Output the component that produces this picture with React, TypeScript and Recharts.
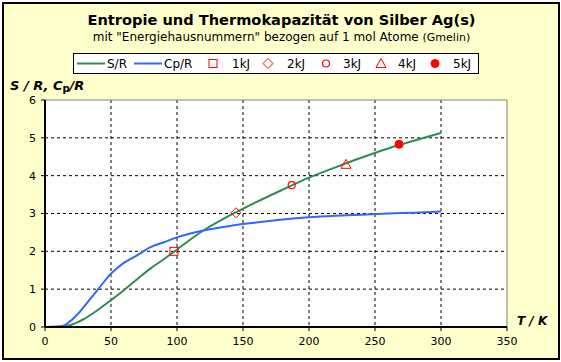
import React from 'react';
import { ComposedChart, Line, Scatter, XAxis, YAxis, CartesianGrid, ReferenceLine } from 'recharts';

// temperatures (K) for the two curves
const temps = [0, 10, 15, 20, 25, 30, 40, 50, 60, 70, 80, 90, 100, 120, 140, 160, 180, 200, 220, 240, 260, 280, 300];
const entropy = [0, 0.005, 0.02, 0.06, 0.13, 0.22, 0.45, 0.71, 0.98, 1.27, 1.55, 1.79, 2.05, 2.55, 2.95, 3.3, 3.63, 3.95, 4.22, 4.48, 4.72, 4.93, 5.13];
const heatCap = [0, 0.01, 0.05, 0.18, 0.35, 0.56, 0.99, 1.41, 1.7, 1.9, 2.11, 2.24, 2.37, 2.55, 2.67, 2.76, 2.84, 2.9, 2.94, 2.97, 3.0, 3.02, 3.05];

// "Energiehausnummern" markers
const markerNames = ['1kJ', '2kJ', '3kJ', '4kJ', '5kJ'];
const markerT = [97.7, 144.7, 186.9, 228, 268.2];
const markerS = [2.0, 3.02, 3.75, 4.3, 4.83];

const xTicks = [0, 50, 100, 150, 200, 250, 300, 350];
const yTicks = [0, 1, 2, 3, 4, 5, 6];

const GREEN = '#2E8B57';
const BLUE = '#3366FF';
const RED = '#FF0000';
const FONT = '"DejaVu Sans", Verdana, sans-serif';

const sData = temps.map((t, i) => ({ x: t, y: entropy[i] }));
const cpData = temps.map((t, i) => ({ x: t, y: heatCap[i] }));
const markerData = markerNames.map((n, i) => [{ x: markerT[i], y: markerS[i] }]);

const MarkerShape = ({ cx, cy, kind }: { cx: number; cy: number; kind: number }) => {
    if (kind === 0) return <rect x={cx - 4} y={cy - 4} width={8} height={8} fill="none" stroke={RED} strokeWidth={1} />;
    if (kind === 1)
        return <polygon points={`${cx},${cy - 5} ${cx + 5},${cy} ${cx},${cy + 5} ${cx - 5},${cy}`} fill="none" stroke={RED} strokeWidth={1} />;
    if (kind === 2) return <circle cx={cx} cy={cy} r={3.5} fill="none" stroke={RED} strokeWidth={1.2} />;
    if (kind === 3)
        return <polygon points={`${cx},${cy - 5} ${cx + 5},${cy + 4} ${cx - 5},${cy + 4}`} fill="none" stroke={RED} strokeWidth={1} />;
    return <circle cx={cx} cy={cy} r={4} fill={RED} stroke={RED} />;
};

const ChartLegend = () => {
    const textStyle = { fontSize: 12, fill: '#000', fontFamily: FONT };
    const symX = [140, 195, 253, 308, 362];
    const labX = [159, 214, 270, 325, 380];
    return (
        <svg width={406} height={21} style={{ display: 'block', position: 'absolute', left: 73, top: 53 }}>
            <rect x={0.5} y={0.5} width={405} height={20} fill="#fff" stroke="#000" />
            <line x1={4} x2={32} y1={10.5} y2={10.5} stroke={GREEN} strokeWidth={2} />
            <text x={34} y={15} style={textStyle}>S/R</text>
            <line x1={61} x2={89} y1={10.5} y2={10.5} stroke={BLUE} strokeWidth={2} />
            <text x={91} y={15} style={textStyle}>Cp/R</text>
            {markerNames.map((n, i) => (
                <g key={n}>
                    <MarkerShape cx={symX[i]} cy={10.5} kind={i} />
                    <text x={labX[i]} y={15} style={textStyle}>{n}</text>
                </g>
            ))}
        </svg>
    );
};

export default function App() {
    return (
        <div style={{ position: 'absolute', left: 0, top: 0, width: 561, height: 362, background: '#fff', fontFamily: FONT }}>
            <div style={{ position: 'absolute', left: 2, top: 2, width: 554, height: 354, border: '2px solid #000', background: '#FFFFCC' }} />
            <div style={{ position: 'absolute', left: 0, top: 11, width: 563, textAlign: 'center', fontSize: 14.6, fontWeight: 'bold' }}>
                Entropie und Thermokapazität von Silber Ag(s)
            </div>
            <div style={{ position: 'absolute', left: 0, top: 30, width: 563, textAlign: 'center', fontSize: 12 }}>
                mit "Energiehausnummern" bezogen auf 1 mol Atome <span style={{ fontSize: 11 }}>(Gmelin)</span>
            </div>
            <ChartLegend />
            <div style={{ position: 'absolute', left: 10, top: 78, fontSize: 13, fontWeight: 'bold', fontStyle: 'italic' }}>
                S / R, C<sub style={{ fontSize: 10, verticalAlign: -2, fontStyle: 'normal' }}>p</sub>/R
            </div>
            <div style={{ position: 'absolute', left: 517, top: 314, fontSize: 12, fontWeight: 'bold', fontStyle: 'italic' }}>
                T / K
            </div>
            <div style={{ position: 'absolute', left: 0, top: 0 }}>
                <ComposedChart width={561} height={362} margin={{ top: 100, right: 54, left: 0, bottom: 5 }}>
                    <CartesianGrid
                        stroke="#000"
                        strokeDasharray="3 3"
                        fill="#fff"
                        horizontalValues={[1, 2, 3, 4, 5]}
                        verticalValues={[50, 100, 150, 200, 250, 300]}
                    />
                    <XAxis
                        type="number"
                        dataKey="x"
                        domain={[0, 350]}
                        ticks={xTicks}
                        height={30}
                        axisLine={{ stroke: '#000', strokeWidth: 2 }}
                        tickLine={{ stroke: '#000' }}
                        tickSize={4}
                        tickMargin={6}
                        tick={{ fontSize: 11, fill: '#000', fontFamily: FONT }}
                        allowDataOverflow
                    />
                    <YAxis
                        type="number"
                        domain={[0, 6]}
                        ticks={yTicks}
                        width={45}
                        axisLine={{ stroke: '#000', strokeWidth: 2 }}
                        tickLine={{ stroke: '#000' }}
                        tickSize={4}
                        tickMargin={5}
                        tick={{ fontSize: 11, fill: '#000', fontFamily: FONT }}
                        allowDataOverflow
                    />
                    <ReferenceLine y={6} stroke="#808080" strokeWidth={1} />
                    <ReferenceLine x={350} stroke="#808080" strokeWidth={1} />
                    <Line data={sData} dataKey="y" type="monotone" stroke={GREEN} strokeWidth={2} dot={false} isAnimationActive={false} />
                    <Line data={cpData} dataKey="y" type="monotone" stroke={BLUE} strokeWidth={2} dot={false} isAnimationActive={false} />
                    {markerData.map((d, i) => (
                        <Scatter
                            key={markerNames[i]}
                            data={d}
                            dataKey="y"
                            isAnimationActive={false}
                            shape={(p: any) => <MarkerShape cx={p.cx} cy={p.cy} kind={i} />}
                        />
                    ))}
                </ComposedChart>
            </div>
        </div>
    );
}
